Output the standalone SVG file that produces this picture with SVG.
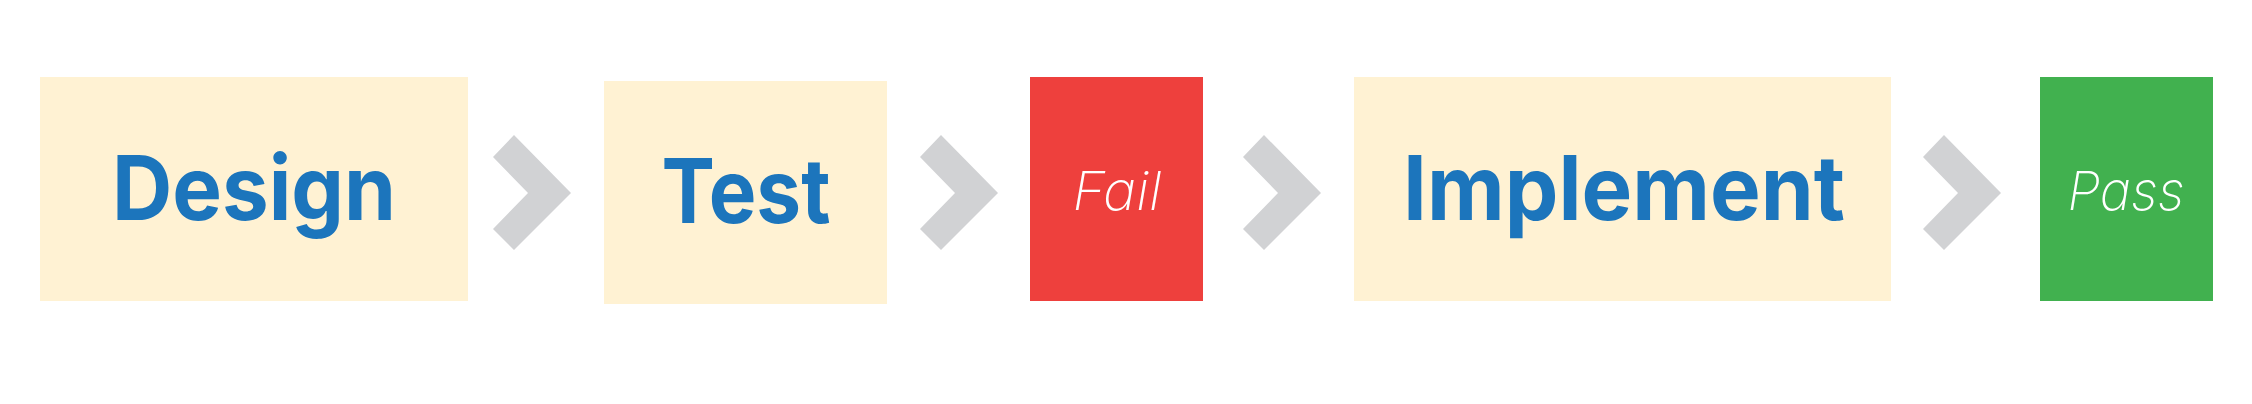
<svg xmlns="http://www.w3.org/2000/svg" xmlns:xlink="http://www.w3.org/1999/xlink" width="2252" height="404" viewBox="0 0 2252 404">
<style>
.step{fill:#FFF2D3}
.lbl{font-family:"Inter","Roboto","Liberation Sans",sans-serif;font-weight:700;fill:#1C75BC;font-size:89px;text-anchor:middle}
.res{font-family:"Inter","Roboto","Liberation Sans",sans-serif;font-weight:200;font-style:italic;fill:#FFFFFF;font-size:54px;text-anchor:middle}
.chev{fill:#D1D2D4}
</style>
<defs>
<polygon id="chev" points="514,135 571,193 514,250 493,229 528,193 493,157"/>
</defs>
<rect width="2252" height="404" fill="#FFFFFF"/>
<g id="connectors" class="chev">
<use xlink:href="#chev"/>
<use xlink:href="#chev" transform="translate(427,0)"/>
<use xlink:href="#chev" transform="translate(750,0)"/>
<use xlink:href="#chev" transform="translate(1430,0)"/>
</g>
<g id="design">
<rect class="step" x="40" y="77" width="428" height="224"/>
<text class="lbl" x="254" y="220" textLength="284" lengthAdjust="spacingAndGlyphs">Design</text>
</g>
<g id="test">
<rect class="step" x="604" y="81" width="283" height="223"/>
<text class="lbl" x="746" y="223" textLength="169" lengthAdjust="spacingAndGlyphs">Test</text>
</g>
<g id="fail">
<rect x="1030" y="77" width="173" height="224" fill="#EE403D"/>
<text class="res" x="1117" y="210" textLength="89" lengthAdjust="spacingAndGlyphs">Fail</text>
</g>
<g id="implement">
<rect class="step" x="1354" y="77" width="537" height="224"/>
<text class="lbl" x="1624" y="220" textLength="442" lengthAdjust="spacingAndGlyphs">Implement</text>
</g>
<g id="pass">
<rect x="2040" y="77" width="173" height="224" fill="#41B14F"/>
<text class="res" x="2126" y="210" textLength="117" lengthAdjust="spacingAndGlyphs">Pass</text>
</g>
</svg>
